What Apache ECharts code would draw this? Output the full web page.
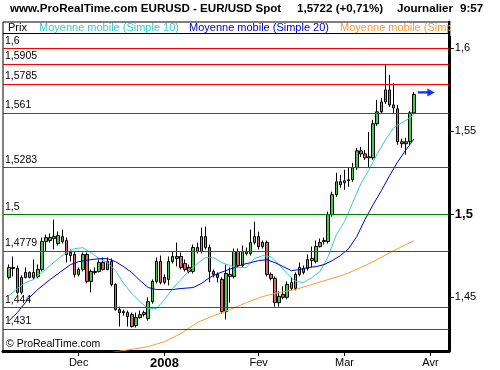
<!DOCTYPE html>
<html>
<head>
<meta charset="utf-8">
<script src="https://cdn.jsdelivr.net/npm/echarts@6/dist/echarts.min.js"></script>
<style>html,body{margin:0;padding:0;background:#fff;}#c{width:500px;height:370px;}</style>
</head>
<body>
<div id="c"></div>
<script>
// ---- data (EUR/USD daily, 8 Nov 2007 .. 26 Mar 2008) ----
const firstDate = '2007-11-07';   // one empty slot before the first candle
const slotCount = 109;            // trading days shown on the axis
const tickDates = ['2007-12-03', '2008-01-01', '2008-02-01', '2008-03-03', '2008-04-01'];
const tickLabels = ['Dec', '2008', 'Fev', 'Mar', 'Avr'];

const opens = [1.4620,1.4680,1.4674,1.4530,1.4620,1.4650,1.4620,1.4626,1.4668,1.4836,
1.4842,1.4854,1.4824,1.4866,1.4842,1.4770,1.4758,1.4638,1.4668,1.4758,
1.4596,1.4656,1.4656,1.4710,1.4668,1.4716,1.4578,1.4426,1.4414,1.4384,
1.4396,1.4330,1.4378,1.4396,1.4372,1.4474,1.4596,1.4716,1.4620,1.4608,
1.4716,1.4746,1.4746,1.4704,1.4680,1.4656,1.4800,1.4776,1.4866,1.4800,
1.4656,1.4638,1.4608,1.4414,1.4626,1.4626,1.4776,1.4692,1.4776,1.4764,
1.4830,1.4866,1.4806,1.4830,1.4638,1.4614,1.4468,1.4518,1.4500,1.4590,
1.4554,1.4638,1.4674,1.4674,1.4722,1.4716,1.4806,1.4842,1.4836,1.4998,
1.5118,1.5196,1.5190,1.5202,1.5208,1.5280,1.5382,1.5364,1.5346,1.5340,
1.5545,1.5617,1.5677,1.5749,1.5659,1.5635,1.5437,1.5425,1.5437,1.5611];
const closes = [1.4680,1.4674,1.4530,1.4620,1.4650,1.4620,1.4650,1.4668,1.4836,1.4860,
1.4860,1.4866,1.4872,1.4836,1.4758,1.4752,1.4638,1.4668,1.4758,1.4596,
1.4656,1.4650,1.4710,1.4668,1.4716,1.4578,1.4426,1.4408,1.4408,1.4408,
1.4324,1.4378,1.4396,1.4408,1.4474,1.4596,1.4716,1.4590,1.4590,1.4716,
1.4746,1.4734,1.4680,1.4668,1.4656,1.4800,1.4776,1.4866,1.4800,1.4656,
1.4638,1.4620,1.4414,1.4644,1.4638,1.4776,1.4692,1.4776,1.4764,1.4830,
1.4866,1.4806,1.4830,1.4638,1.4614,1.4468,1.4506,1.4500,1.4578,1.4554,
1.4638,1.4680,1.4650,1.4728,1.4734,1.4806,1.4830,1.4836,1.4998,1.5118,
1.5196,1.5178,1.5202,1.5208,1.5280,1.5382,1.5364,1.5340,1.5340,1.5545,
1.5617,1.5677,1.5749,1.5659,1.5641,1.5437,1.5425,1.5437,1.5611,1.5722];
const lows = [1.4608,1.4626,1.4518,1.4518,1.4614,1.4614,1.4608,1.4614,1.4656,1.4776,
1.4830,1.4788,1.4812,1.4824,1.4710,1.4716,1.4620,1.4626,1.4656,1.4584,
1.4530,1.4638,1.4650,1.4662,1.4662,1.4566,1.4420,1.4324,1.4390,1.4324,
1.4318,1.4318,1.4372,1.4384,1.4360,1.4462,1.4584,1.4578,1.4578,1.4572,
1.4704,1.4686,1.4668,1.4656,1.4644,1.4644,1.4764,1.4764,1.4788,1.4590,
1.4620,1.4590,1.4402,1.4366,1.4468,1.4614,1.4680,1.4680,1.4752,1.4752,
1.4818,1.4788,1.4794,1.4626,1.4602,1.4444,1.4444,1.4488,1.4488,1.4542,
1.4542,1.4626,1.4638,1.4662,1.4680,1.4704,1.4800,1.4818,1.4824,1.4986,
1.5106,1.5160,1.5148,1.5166,1.5196,1.5268,1.5346,1.5328,1.5280,1.5328,
1.5533,1.5605,1.5665,1.5647,1.5611,1.5419,1.5401,1.5359,1.5419,1.5605];
const highs = [1.4698,1.4746,1.4692,1.4632,1.4680,1.4656,1.4728,1.4698,1.4860,1.4878,
1.4884,1.4968,1.4896,1.4908,1.4860,1.4788,1.4776,1.4680,1.4770,1.4770,
1.4668,1.4680,1.4728,1.4740,1.4740,1.4734,1.4584,1.4444,1.4426,1.4420,
1.4408,1.4408,1.4420,1.4420,1.4500,1.4608,1.4740,1.4752,1.4638,1.4746,
1.4776,1.4830,1.4770,1.4728,1.4698,1.4818,1.4830,1.4920,1.4926,1.4818,
1.4668,1.4650,1.4620,1.4698,1.4680,1.4794,1.4794,1.4812,1.4800,1.4908,
1.4956,1.4896,1.4842,1.4842,1.4650,1.4626,1.4536,1.4566,1.4596,1.4620,
1.4650,1.4710,1.4692,1.4758,1.4806,1.4842,1.4854,1.4860,1.5016,1.5136,
1.5250,1.5238,1.5268,1.5280,1.5310,1.5400,1.5406,1.5388,1.5497,1.5569,
1.5689,1.5701,1.5905,1.5839,1.5791,1.5659,1.5455,1.5461,1.5623,1.5737];

// moving averages: [candle index, value]
const ma10Points = [[0,1.4511],[2,1.4553],[4,1.4589],[6,1.4607],[8,1.4649],[10,1.4691],[12,1.4733],[14,1.4769],[16,1.4793],[18,1.4799],[20,1.4769],[22,1.4733],[24,1.4709],[26,1.4661],[28,1.4583],[30,1.4523],[32,1.4474],[34,1.4432],[36,1.4432],[38,1.4486],[40,1.4553],[42,1.4607],[44,1.4661],[46,1.4703],[48,1.4739],[50,1.4739],[52,1.4709],[54,1.4691],[56,1.4679],[58,1.4679],[60,1.4733],[62,1.4751],[64,1.4745],[66,1.4697],[68,1.4643],[70,1.4595],[72,1.4589],[74,1.4619],[76,1.4655],[78,1.4745],[80,1.4877],[82,1.4956],[84,1.5070],[86,1.5184],[88,1.5268],[90,1.5364],[92,1.5448],[94,1.5521],[96,1.5551],[98,1.5581],[99,1.5605]];
const ma20Points = [[0,1.4360],[2,1.4408],[5,1.4500],[7,1.4547],[10,1.4607],[12,1.4643],[15,1.4697],[17,1.4715],[20,1.4727],[22,1.4733],[24,1.4733],[26,1.4715],[28,1.4685],[30,1.4649],[32,1.4601],[34,1.4559],[36,1.4547],[38,1.4547],[40,1.4547],[42,1.4553],[45,1.4559],[47,1.4583],[49,1.4619],[51,1.4643],[53,1.4661],[55,1.4679],[57,1.4697],[59,1.4709],[61,1.4721],[63,1.4727],[65,1.4709],[67,1.4685],[69,1.4661],[71,1.4667],[73,1.4679],[75,1.4685],[77,1.4697],[79,1.4721],[81,1.4751],[83,1.4793],[85,1.4866],[87,1.4968],[89,1.5058],[91,1.5142],[93,1.5232],[95,1.5316],[97,1.5388],[99,1.5454]];
const maLongPoints = [[25,1.4168],[31,1.4191],[34,1.4203],[38,1.4233],[42,1.4282],[46,1.4348],[50,1.4390],[54,1.4426],[58,1.4468],[62,1.4505],[66,1.4529],[70,1.4547],[74,1.4577],[78,1.4607],[82,1.4637],[86,1.4679],[90,1.4727],[94,1.4781],[99,1.4841]];

const resistanceLevels = [1.6, 1.5905, 1.5785];
const supportLevels = [1.561, 1.5283, 1.5, 1.4779, 1.444, 1.431];
const priceTicks = [1.45, 1.5, 1.55, 1.6];

// ---- build ----
const FONT = 'Liberation Sans, Arial, sans-serif';
function weekdays(start, n) {
  const p = start.split('-').map(Number);
  const d = new Date(Date.UTC(p[0], p[1] - 1, p[2]));
  const out = [];
  while (out.length < n) {
    const wd = d.getUTCDay();
    if (wd !== 0 && wd !== 6) out.push(d.toISOString().slice(0, 10));
    d.setUTCDate(d.getUTCDate() + 1);
  }
  return out;
}
const categories = weekdays(firstDate, slotCount);
const OFF = 1; // first slot is empty
const candleData = categories.map((c, k) => {
  const i = k - OFF;
  if (i < 0 || i >= opens.length) return '-';
  return [opens[i], closes[i], lows[i], highs[i]];
});
function lineFrom(points) {
  const arr = categories.map(() => null);
  points.forEach(([i, v]) => { arr[i + OFF] = v; });
  return arr;
}
const lastClose = closes[closes.length - 1];
const prevClose = closes[closes.length - 2];
const pct = (lastClose / prevClose - 1) * 100;
const fmt = (v, d) => v.toFixed(d).replace('.', ',');
const comma = v => String(+(+v).toFixed(4)).replace('.', ',');
const isTick = (idx, val) => tickDates.indexOf(val) >= 0;

function levelLines(levels, color) {
  return {
    silent: true, symbol: ['none', 'none'], animation: false, precision: 4,
    lineStyle: {color: color, width: 1, type: 'solid', opacity: 1},
    emphasis: {disabled: true},
    data: levels.map(v => ({yAxis: v, name: comma(v)})),
    label: {show: true, position: 'insideStartTop', distance: [2, 2], color: '#000', fontSize: 10.5, fontFamily: FONT,
      formatter: p => p.name}
  };
}

const chart = echarts.init(document.getElementById('c'), null, {renderer: 'canvas'});
chart.setOption({
  animation: false,
  backgroundColor: '#fff',
  grid: {left: 3, right: 51.2, top: 22, bottom: 18.5, show: true, borderColor: '#000', borderWidth: 1, containLabel: false},
  xAxis: {
    type: 'category', data: categories, boundaryGap: true,
    axisLine: {show: true, lineStyle: {color: '#000', width: 3}},
    axisTick: {show: true, alignWithLabel: true, interval: isTick, length: 5, lineStyle: {color: '#000', width: 1}},
    axisLabel: {
      interval: isTick, margin: 6, color: '#000', fontSize: 11, fontFamily: FONT,
      formatter: val => {
        const k = tickDates.indexOf(val);
        if (k < 0) return '';
        const t = tickLabels[k];
        return /^\d{4}$/.test(t) ? '{y|' + t + '}' : t;
      },
      rich: {y: {fontSize: 13, fontWeight: 'bold', fontFamily: FONT, color: '#000'}}
    },
    splitLine: {show: false}
  },
  yAxis: {
    type: 'value', position: 'right', scale: true,
    min: 1.41768, max: 1.61581,
    axisLine: {show: true, lineStyle: {color: '#000', width: 3}},
    axisTick: {show: true, customValues: priceTicks, length: 5, lineStyle: {color: '#000', width: 1}},
    axisLabel: {
      customValues: priceTicks, margin: 6, color: '#000', fontSize: 11, fontFamily: FONT,
      formatter: v => Math.abs(v - 1.5) < 1e-9 ? '{b|1,5}' : comma(v),
      rich: {b: {fontSize: 13, fontWeight: 'bold', fontFamily: FONT, color: '#000'}}
    },
    splitLine: {show: false}
  },
  series: [
    {
      name: 'Prix', type: 'candlestick', data: candleData, barWidth: 3,
      itemStyle: {color: '#4cc84c', color0: '#d96868', borderColor: '#000', borderColor0: '#000', borderWidth: 1},
      markLine: levelLines(supportLevels, '#008000'),
      markPoint: {
        silent: true, animation: false,
        symbol: 'path://M0,3.5 L9,3.5 L9,0 L16,5 L9,10 L9,6.5 L0,6.5 Z',
        symbolSize: [17, 8], symbolOffset: [0, -2],
        itemStyle: {color: '#1030ff'}, label: {show: false},
        data: [{coord: [categories[102 + OFF], lastClose]}]
      }
    },
    {name: 'Moyenne mobile (Simple 10)', type: 'line', data: lineFrom(ma10Points), connectNulls: true, showSymbol: false, symbol: 'none',
      lineStyle: {color: '#33cccc', width: 1}, itemStyle: {color: '#33cccc'}, silent: true,
      markLine: levelLines(resistanceLevels, '#ff0000')},
    {name: 'Moyenne mobile (Simple 20)', type: 'line', data: lineFrom(ma20Points), connectNulls: true, showSymbol: false, symbol: 'none',
      lineStyle: {color: '#0000cc', width: 1}, itemStyle: {color: '#0000cc'}, silent: true},
    {name: 'Moyenne mobile (Simple 100)', type: 'line', data: lineFrom(maLongPoints), connectNulls: true, showSymbol: false, symbol: 'none',
      lineStyle: {color: '#ff9933', width: 1}, itemStyle: {color: '#ff9933'}, silent: true, clip: true}
  ],
  graphic: [
    {type: 'line', shape: {x1: 3, y1: 33.5, x2: 448, y2: 33.5}, style: {stroke: '#000', lineWidth: 1}, z: 100},
    {type: 'text', x: 8, y: 28, z: 100, style: {text: 'Prix', fill: '#000', font: '11px ' + FONT, textVerticalAlign: 'middle'}},
    {type: 'text', x: 39, y: 28, z: 100, style: {text: 'Moyenne mobile (Simple 10)', fill: '#33cccc', font: '11px ' + FONT, textVerticalAlign: 'middle'}},
    {type: 'text', x: 189, y: 28, z: 100, style: {text: 'Moyenne mobile (Simple 20)', fill: '#0000cc', font: '11px ' + FONT, textVerticalAlign: 'middle'}},
    {type: 'text', x: 340, y: 28, z: 100, style: {text: 'Moyenne mobile (Simple 100)', fill: '#ff9933', font: '11px ' + FONT, textVerticalAlign: 'middle'}},
    {type: 'rect', shape: {x: 450.4, y: 20, width: 50, height: 16}, style: {fill: '#fff'}, z: 101},
    {type: 'text', x: 10, y: 9, z: 100, style: {text: 'www.ProRealTime.com EURUSD - EUR/USD Spot', fill: '#000', font: 'bold 11.6px ' + FONT, textVerticalAlign: 'middle'}},
    {type: 'text', x: 297, y: 9, z: 100, style: {text: fmt(lastClose, 4) + ' (+' + fmt(pct, 2) + '%)', fill: '#000', font: 'bold 11.6px ' + FONT, textVerticalAlign: 'middle'}},
    {type: 'text', x: 397, y: 9, z: 100, style: {text: 'Journalier', fill: '#000', font: 'bold 11.6px ' + FONT, textVerticalAlign: 'middle'}},
    {type: 'text', x: 460, y: 9, z: 100, style: {text: '9:57', fill: '#000', font: 'bold 11.6px ' + FONT, textVerticalAlign: 'middle'}},
    {type: 'text', x: 6, y: 344, z: 100, style: {text: '\u00a9 ProRealTime.com', fill: '#000', font: '10.5px ' + FONT, textVerticalAlign: 'middle'}}
  ]
});
</script>
</body>
</html>
